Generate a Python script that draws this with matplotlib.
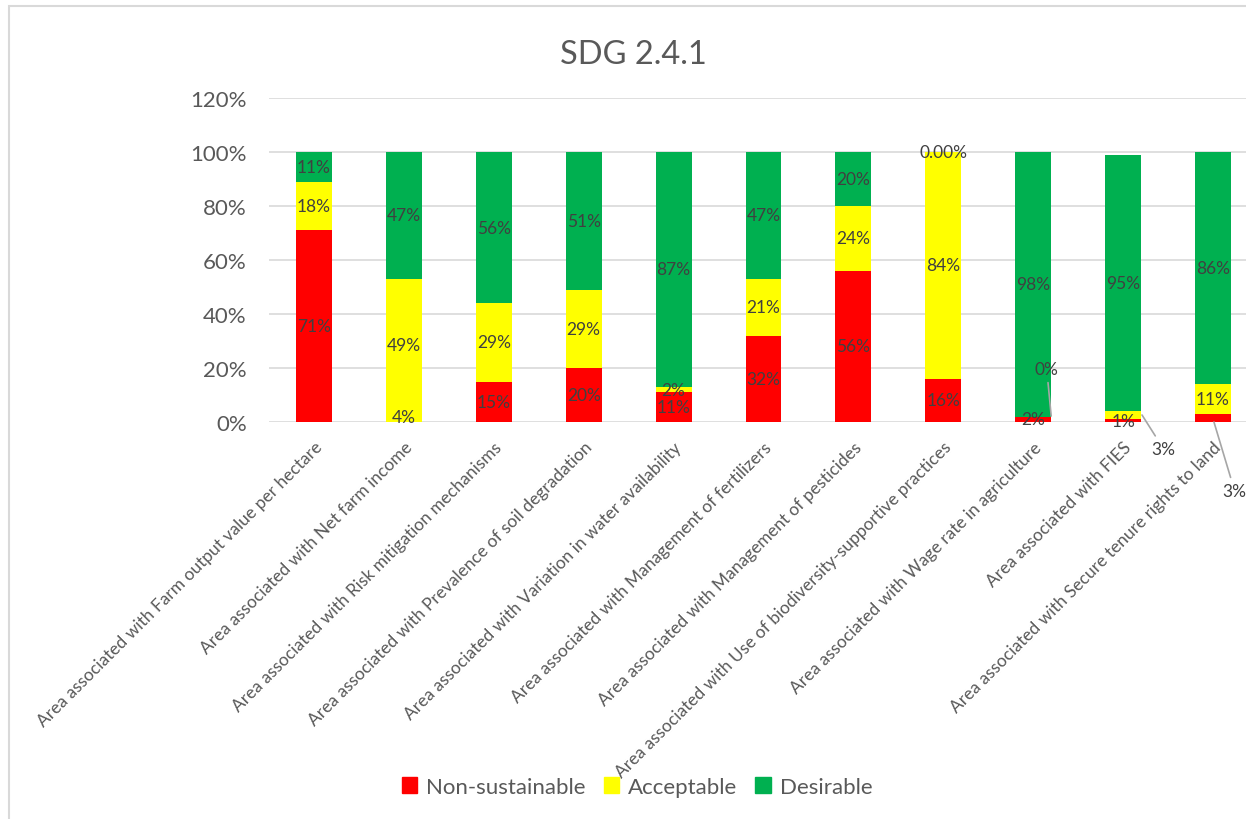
import numpy as np
import matplotlib.pyplot as plt
from matplotlib.patches import Rectangle, Patch

plt.rcParams['font.family'] = ['Lato', 'DejaVu Sans']

categories = [
    'Area associated with Farm output value per hectare',
    'Area associated with Net farm income',
    'Area associated with Risk mitigation mechanisms',
    'Area associated with Prevalence of soil degradation',
    'Area associated with Variation in water availability',
    'Area associated with Management of fertilizers',
    'Area associated with Management of pesticides',
    'Area associated with Use of biodiversity-supportive practices',
    'Area associated with Wage rate in agriculture',
    'Area associated with FIES',
    'Area associated with Secure tenure rights to land',
]
non_sustainable = [71, 4, 15, 20, 11, 32, 56, 16, 2, 1, 3]
acceptable = [18, 49, 29, 29, 2, 21, 24, 84, 0, 3, 11]
desirable = [11, 47, 56, 51, 87, 47, 20, 0, 98, 95, 86]

lab_non = ['71%', '4%', '15%', '20%', '11%', '32%', '56%', '16%', '2%', '1%', '3%']
lab_acc = ['18%', '49%', '29%', '29%', '2%', '21%', '24%', '84%', '0%', '3%', '11%']
lab_des = ['11%', '47%', '56%', '51%', '87%', '47%', '20%', '0.00%', '98%', '95%', '86%']

RED = '#FF0000'
YEL = '#FFFF00'
GRN = '#00B050'
TXT = '#404040'
TICK = '#595959'

fig = plt.figure(figsize=(12.46, 8.2), dpi=100)
fig.patches.append(Rectangle((9 / 1246, -0.1), 1.2, 1.1 - 7 / 820, transform=fig.transFigure,
                             fill=False, edgecolor='#D9D9D9', linewidth=1.5))

ax = fig.add_axes([269 / 1246, 397 / 820, 989 / 1246, 324 / 820])
x = np.arange(len(categories))
w = 0.4

ns = np.array(non_sustainable, dtype=float)
ac = np.array(acceptable, dtype=float)
de = np.array(desirable, dtype=float)

# the net farm income bar shows its red part in yellow in the original
red_cols = [RED] * len(x)
red_cols[1] = YEL

ax.bar(x, ns, w, color=red_cols, zorder=3)
ax.bar(x, ac, w, bottom=ns, color=YEL, zorder=3)
ax.bar(x, de, w, bottom=ns + ac, color=GRN, zorder=3)

ax.set_xlim(-0.5, len(x) - 0.5)
ax.set_ylim(0, 120)
ax.set_yticks(np.arange(0, 121, 20))
ax.set_yticklabels([f'{v}%' for v in range(0, 121, 20)], fontsize=16, color=TICK)
ax.grid(axis='y', color='#D9D9D9', linewidth=1.2, zorder=0)
for s in ax.spines.values():
    s.set_visible(False)
ax.tick_params(axis='both', length=0)
ax.tick_params(axis='y', pad=16)

ax.set_xticks(x)
ax.set_xticklabels(categories, rotation=45, ha='right', rotation_mode='anchor',
                   fontsize=12.5, color=TICK)
ax.tick_params(axis='x', pad=12)

# data labels, centred in each segment
callouts = {('acc', 8), ('acc', 9), ('non', 10)}
for i in x:
    for key, vals, base, labs in (('non', ns, 0, lab_non),
                                  ('acc', ac, ns, lab_acc),
                                  ('des', de, ns + ac, lab_des)):
        if (key, i) in callouts:
            continue
        b = base if np.isscalar(base) else base[i]
        yc = b + vals[i] / 2
        ax.text(i, yc, labs[i], ha='center', va='center', fontsize=12.5, color=TXT, zorder=5)

line_kw = dict(arrowstyle='-', color='#A6A6A6', lw=1.2, shrinkA=2, shrinkB=0)
ax.annotate(lab_acc[8], xy=(8 + 0.2, 2.2), xytext=(8 + 0.15, 19.6), ha='center', va='center',
            fontsize=12.5, color=TXT, arrowprops=line_kw, annotation_clip=False, zorder=5)
ax.annotate(lab_acc[9], xy=(9 + 0.21, 2.6), xytext=(9 + 0.45, -10), ha='center', va='center',
            fontsize=12.5, color=TXT, arrowprops=line_kw, annotation_clip=False, zorder=5)
ax.annotate(lab_non[10], xy=(10 + 0.01, 0), xytext=(10 + 0.24, -25.5), ha='center', va='center',
            fontsize=12.5, color=TXT, arrowprops=line_kw, annotation_clip=False, zorder=5)

fig.text(633 / 1246, 1 - 55 / 820, 'SDG 2.4.1', ha='center', va='center', fontsize=23.5, color=TICK)

handles = [Patch(color=RED), Patch(color=YEL), Patch(color=GRN)]
fig.legend(handles, ['Non-sustainable', 'Acceptable', 'Desirable'], loc='center',
           bbox_to_anchor=(637 / 1246, 32 / 820), ncol=3, frameon=False, fontsize=16,
           handlelength=0.7, handleheight=0.7, handletextpad=0.4, columnspacing=0.8,
           labelcolor=TICK)

fig.savefig('out.png', dpi=100)
